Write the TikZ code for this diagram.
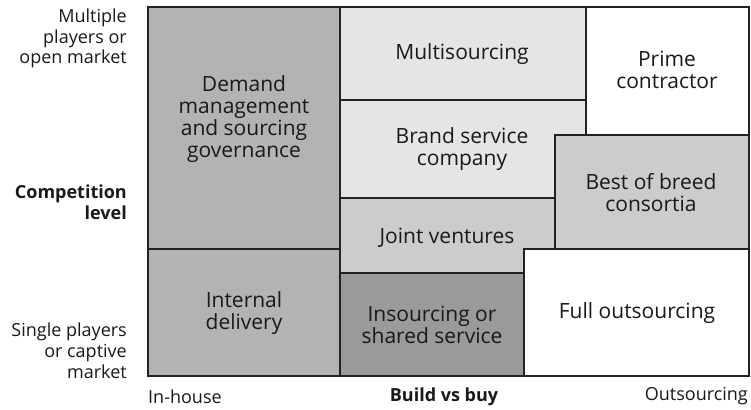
\documentclass[tikz,border=0pt]{standalone}
\usepackage{fontspec}
\setmainfont{Open Sans}
\definecolor{gDark}{HTML}{B3B3B3}
\definecolor{gLight}{HTML}{E5E5E5}
\definecolor{gMid}{HTML}{CCCCCC}
\definecolor{gDeep}{HTML}{9A9A9A}
\definecolor{edge}{HTML}{222222}
\begin{document}
\begin{tikzpicture}[x=1pt,y=-1pt,
  region/.style={draw=edge,line width=1.2pt,line join=miter},
  lbl/.style={align=center,font=\fontsize{21}{22}\selectfont,inner sep=0pt,text=black!90},
  axl/.style={font=\fontsize{18}{20.8}\selectfont,inner sep=0pt,text=black!90}]
\useasboundingbox (0,0) rectangle (751,409);
% regions
\fill[white] (0,0) rectangle (751,409);
\path[region,fill=gDark] (148,7) -- (340,7) -- (340,249) -- (148,249) -- cycle;
\path[region,fill=gDark] (148,249) -- (340,249) -- (340,376) -- (148,376) -- cycle;
\path[region,fill=gLight] (340,7) -- (586,7) -- (586,100) -- (340,100) -- cycle;
\path[region,fill=white] (586,7) -- (749,7) -- (749,135) -- (586,135) -- cycle;
\path[region,fill=gLight] (340,100) -- (586,100) -- (586,135) -- (555,135) -- (555,198) -- (340,198) -- cycle;
\path[region,fill=gMid] (555,135) -- (749,135) -- (749,249) -- (555,249) -- cycle;
\path[region,fill=gMid] (340,198) -- (555,198) -- (555,249) -- (524,249) -- (524,273) -- (340,273) -- cycle;
\path[region,fill=gDeep] (340,273) -- (524,273) -- (524,376) -- (340,376) -- cycle;
\path[region,fill=white] (524,249) -- (749,249) -- (749,376) -- (524,376) -- cycle;
% region labels
\node[lbl] (demand) at (244,119.5) {Demand\\management\\and sourcing\\governance};
\node[lbl] (internal) at (244,313) {Internal\\delivery};
\node[lbl] (multi) at (462,54.5) {Multisourcing};
\node[lbl] (prime) at (667,70) {Prime\\contractor};
\node[lbl] (brand) at (462,149) {Brand service\\company};
\node[lbl] (best) at (651,193) {Best of breed\\consortia};
\node[lbl] (joint) at (447,238) {Joint ventures};
\node[lbl] (insource) at (432,325) {Insourcing or\\shared service};
\node[lbl] (full) at (637,313) {Full outsourcing};
% axis labels
\node[axl,align=right,anchor=east] (multiple) at (127,38.5) {Multiple\\players or\\open market};
\node[axl,align=right,anchor=east,font=\fontsize{18}{20.8}\selectfont\bfseries] (comp) at (127,202) {Competition\\level};
\node[axl,align=right,anchor=east] (single) at (127,351) {Single players\\or captive\\market};
\node[axl,anchor=west] (inhouse) at (148,396.5) {In-house};
\node[axl,font=\fontsize{18}{20.8}\selectfont\bfseries] (build) at (444,396.5) {Build vs buy};
\node[axl,anchor=east] (outs) at (748,396.5) {Outsourcing};
\end{tikzpicture}
\end{document}
